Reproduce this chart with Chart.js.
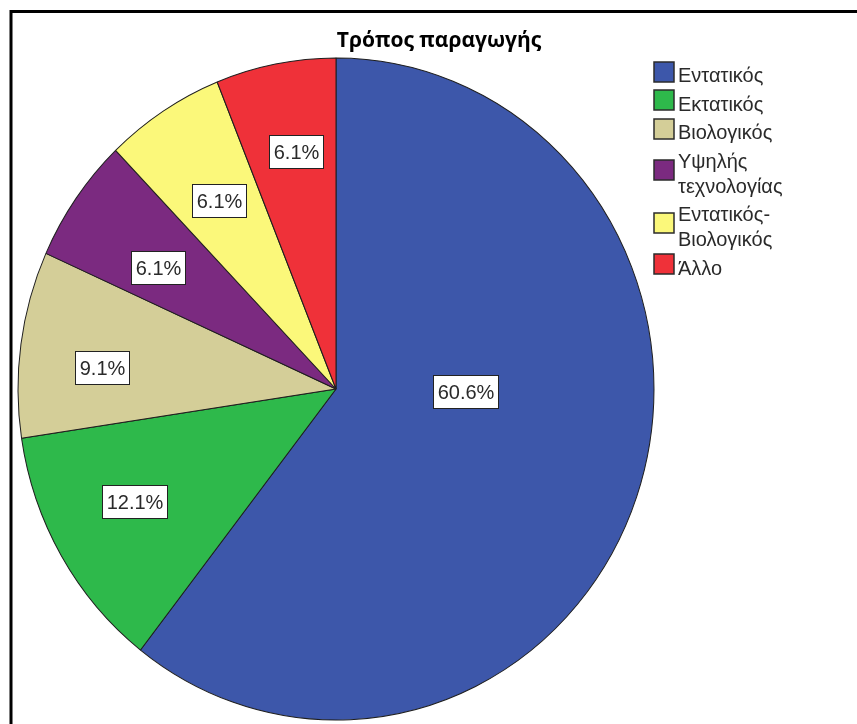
<!DOCTYPE html>
<html>
<head>
<meta charset="utf-8">
<script src="https://cdn.jsdelivr.net/npm/chart.js@4/dist/chart.umd.min.js"></script>
<style>
  html, body { margin: 0; padding: 0; background: #ffffff; }
  #wrap { width: 857px; height: 724px; position: relative; }
  canvas { display: block; }
</style>
</head>
<body>
<div id="wrap"><canvas id="c" width="857" height="724"></canvas></div>
<script>
// ---- data ----
const chartTitle = 'Τρόπος παραγωγής';
const categories = ['Εντατικός', 'Εκτατικός', 'Βιολογικός', ['Υψηλής', 'τεχνολογίας'], ['Εντατικός-', 'Βιολογικός'], 'Άλλο'];
const percentValues = [60.6, 12.1, 9.1, 6.1, 6.1, 6.1];
const sliceLabels = ['60.6%', '12.1%', '9.1%', '6.1%', '6.1%', '6.1%'];

// ---- style ----
const sliceColors = ['#3D57AA', '#2EB94B', '#D4CE98', '#7B2A80', '#FBF87A', '#EF3139'];
const PIE_RADIUS = 318;
const Y_STRETCH = 331 / 318;           // reference pie is slightly taller than wide
const labelRadiusFrac = [0.406, 0.72, 0.74, 0.67, 0.68, 0.73];
const labelTurnDeg = [-17.8, 2, -2.8, -2, 0, 1];

const piePlugin = {
  id: 'spssPie',
  beforeDraw(chart) {
    const ctx = chart.ctx;
    ctx.save();
    ctx.fillStyle = '#ffffff';
    ctx.fillRect(0, 0, chart.width, chart.height);
    // frame (left and top edges visible)
    ctx.strokeStyle = '#000000';
    ctx.lineWidth = 3;
    ctx.beginPath();
    ctx.moveTo(11, chart.height + 2);
    ctx.lineTo(11, 11.5);
    ctx.lineTo(chart.width + 2, 11.5);
    ctx.stroke();
    // title
    ctx.fillStyle = '#000000';
    ctx.font = 'bold 21px "Open Sans", "DejaVu Sans", sans-serif';
    ctx.textAlign = 'center';
    ctx.textBaseline = 'alphabetic';
    ctx.fillText(chartTitle, 439, 47);
    ctx.restore();
  },
  beforeDatasetsDraw(chart) {
    const arc = chart.getDatasetMeta(0).data[0];
    const ctx = chart.ctx;
    ctx.save();
    ctx.translate(arc.x, arc.y);
    ctx.scale(1, Y_STRETCH);
    ctx.translate(-arc.x, -arc.y);
  },
  afterDatasetsDraw(chart) {
    const ctx = chart.ctx;
    ctx.restore();
    const meta = chart.getDatasetMeta(0);
    ctx.save();
    ctx.font = '20px "Liberation Sans", Arial, sans-serif';
    ctx.textBaseline = 'middle';
    ctx.textAlign = 'center';
    meta.data.forEach((a, i) => {
      const mid = (a.startAngle + a.endAngle) / 2 + labelTurnDeg[i] * Math.PI / 180;
      const r = a.outerRadius * labelRadiusFrac[i];
      const x = a.x + Math.cos(mid) * r;
      const y = a.y + Math.sin(mid) * r * Y_STRETCH;
      const t = sliceLabels[i];
      const w = ctx.measureText(t).width + 8;
      const h = 33;
      const bx = Math.round(x - w / 2) + 0.5, by = Math.round(y - h / 2) + 0.5;
      ctx.fillStyle = '#ffffff';
      ctx.fillRect(bx, by, Math.round(w), h);
      ctx.strokeStyle = '#222222';
      ctx.lineWidth = 1;
      ctx.strokeRect(bx, by, Math.round(w), h);
      ctx.fillStyle = '#2a2a2a';
      ctx.fillText(t, bx + Math.round(w) / 2, by + h / 2 + 1);
    });
    ctx.restore();

    // legend
    ctx.save();
    ctx.font = '20px "Liberation Sans", Arial, sans-serif';
    ctx.textAlign = 'left';
    ctx.textBaseline = 'alphabetic';
    let baseline = 82;
    categories.forEach((c, i) => {
      const lines = Array.isArray(c) ? c : [c];
      const first = baseline;
      const last = baseline + (lines.length - 1) * 25;
      const cy = (first + last) / 2 - 10.5;
      ctx.fillStyle = sliceColors[i];
      ctx.fillRect(654, Math.round(cy - 10), 20, 20);
      ctx.strokeStyle = '#2b2b2b';
      ctx.lineWidth = 1.5;
      ctx.strokeRect(654, Math.round(cy - 10), 20, 20);
      ctx.fillStyle = '#2a2a2a';
      lines.forEach((ln, k) => ctx.fillText(ln, 678, first + k * 25));
      baseline = last + 28.5;
    });
    ctx.restore();
  }
};

new Chart(document.getElementById('c'), {
  type: 'pie',
  data: {
    labels: categories,
    datasets: [{
      data: percentValues,
      backgroundColor: sliceColors,
      borderColor: '#1e1e1e',
      borderWidth: 1,
      radius: PIE_RADIUS,
      clip: false,
      hoverOffset: 0
    }]
  },
  options: {
    responsive: false,
    animation: false,
    devicePixelRatio: 1,
    layout: { padding: { left: 18, right: 203, top: 71, bottom: 17 } },
    plugins: {
      legend: { display: false },
      title: { display: false },
      tooltip: { enabled: false }
    },
    events: []
  },
  plugins: [piePlugin]
});
</script>
</body>
</html>
